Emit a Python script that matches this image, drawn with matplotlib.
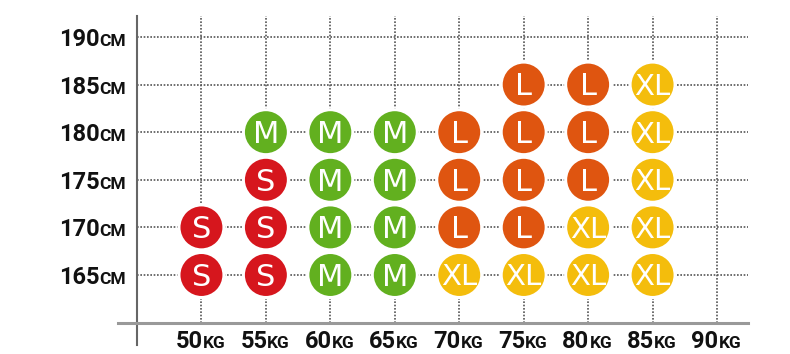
import matplotlib
matplotlib.use("Agg")
import matplotlib.pyplot as plt
from matplotlib.lines import Line2D

# chart data
weight_ticks = [50, 55, 60, 65, 70, 75, 80, 85, 90]
height_ticks = [165, 170, 175, 180, 185, 190]

weights = [50, 50,
           55, 55, 55, 55,
           60, 60, 60, 60,
           65, 65, 65, 65,
           70, 70, 70, 70,
           75, 75, 75, 75, 75,
           80, 80, 80, 80, 80,
           85, 85, 85, 85, 85]
heights = [165, 170,
           165, 170, 175, 180,
           165, 170, 175, 180,
           165, 170, 175, 180,
           165, 170, 175, 180,
           165, 170, 175, 180, 185,
           165, 170, 175, 180, 185,
           165, 170, 175, 180, 185]
sizes = ["S", "S",
         "S", "S", "S", "M",
         "M", "M", "M", "M",
         "M", "M", "M", "M",
         "XL", "L", "L", "L",
         "XL", "L", "L", "L", "L",
         "XL", "XL", "L", "L", "L",
         "XL", "XL", "XL", "XL", "XL"]

size_colors = {"S": "#d6161d", "M": "#62b01f", "L": "#df5510", "XL": "#f4bd0c"}
label_font = ["Roboto", "DejaVu Sans"]

fig = plt.figure(figsize=(7.9, 3.54), dpi=100)
ax = fig.add_axes([0.1734, 0.0887, 0.7734, 0.8661])
ax.set_xlim(45, 92.4)
ax.set_ylim(160, 192.2)

# dotted grid
for w in weight_ticks:
    ax.axvline(w, color="#555555", lw=1.2, ls=(0, (1, 1)), zorder=1)
for h in height_ticks:
    ax.axhline(h, color="#555555", lw=1.2, ls=(0, (1, 1)), zorder=1)

for s in ax.spines.values():
    s.set_visible(False)
ax.set_xticks([])
ax.set_yticks([])

# axis lines that stick out past each other
ax.add_line(Line2D([0, 0], [1, -0.073], transform=ax.transAxes, color="#666666",
                   lw=1.5, clip_on=False, zorder=3))
ax.add_line(Line2D([-0.031, 1], [0, 0], transform=ax.transAxes, color="#999999",
                   lw=2.2, clip_on=False, zorder=3))

# size circles
cols = [size_colors[s] for s in sizes]
ax.scatter(weights, heights, s=1050, c=cols, edgecolors="white", linewidths=2.2, zorder=4)
for w, h, s in zip(weights, heights, sizes):
    ax.text(w, h - 0.25, s, color="white", fontsize=22 if s != "XL" else 21,
            family=["Liberation Sans Narrow", "DejaVu Sans"],
            ha="center", va="center", zorder=5)

# tick labels: big number + small unit
for h in height_ticks:
    ax.annotate(str(h), xy=(45, h), xytext=(-27, -6.5), textcoords="offset points",
                ha="right", va="baseline", fontsize=17, fontweight="bold",
                family=label_font, color="#111111", annotation_clip=False)
    ax.annotate("CM", xy=(45, h), xytext=(-27, -6.5), textcoords="offset points",
                ha="left", va="baseline", fontsize=12.5, fontweight="bold",
                family=label_font, color="#111111", annotation_clip=False)
for w in weight_ticks:
    ax.annotate(str(w), xy=(w, 160), xytext=(1, -18), textcoords="offset points",
                ha="right", va="baseline", fontsize=17, fontweight="bold",
                family=label_font, color="#111111", annotation_clip=False)
    ax.annotate("KG", xy=(w, 160), xytext=(1, -18), textcoords="offset points",
                ha="left", va="baseline", fontsize=12.5, fontweight="bold",
                family=label_font, color="#111111", annotation_clip=False)

fig.savefig("out.png", dpi=100)
